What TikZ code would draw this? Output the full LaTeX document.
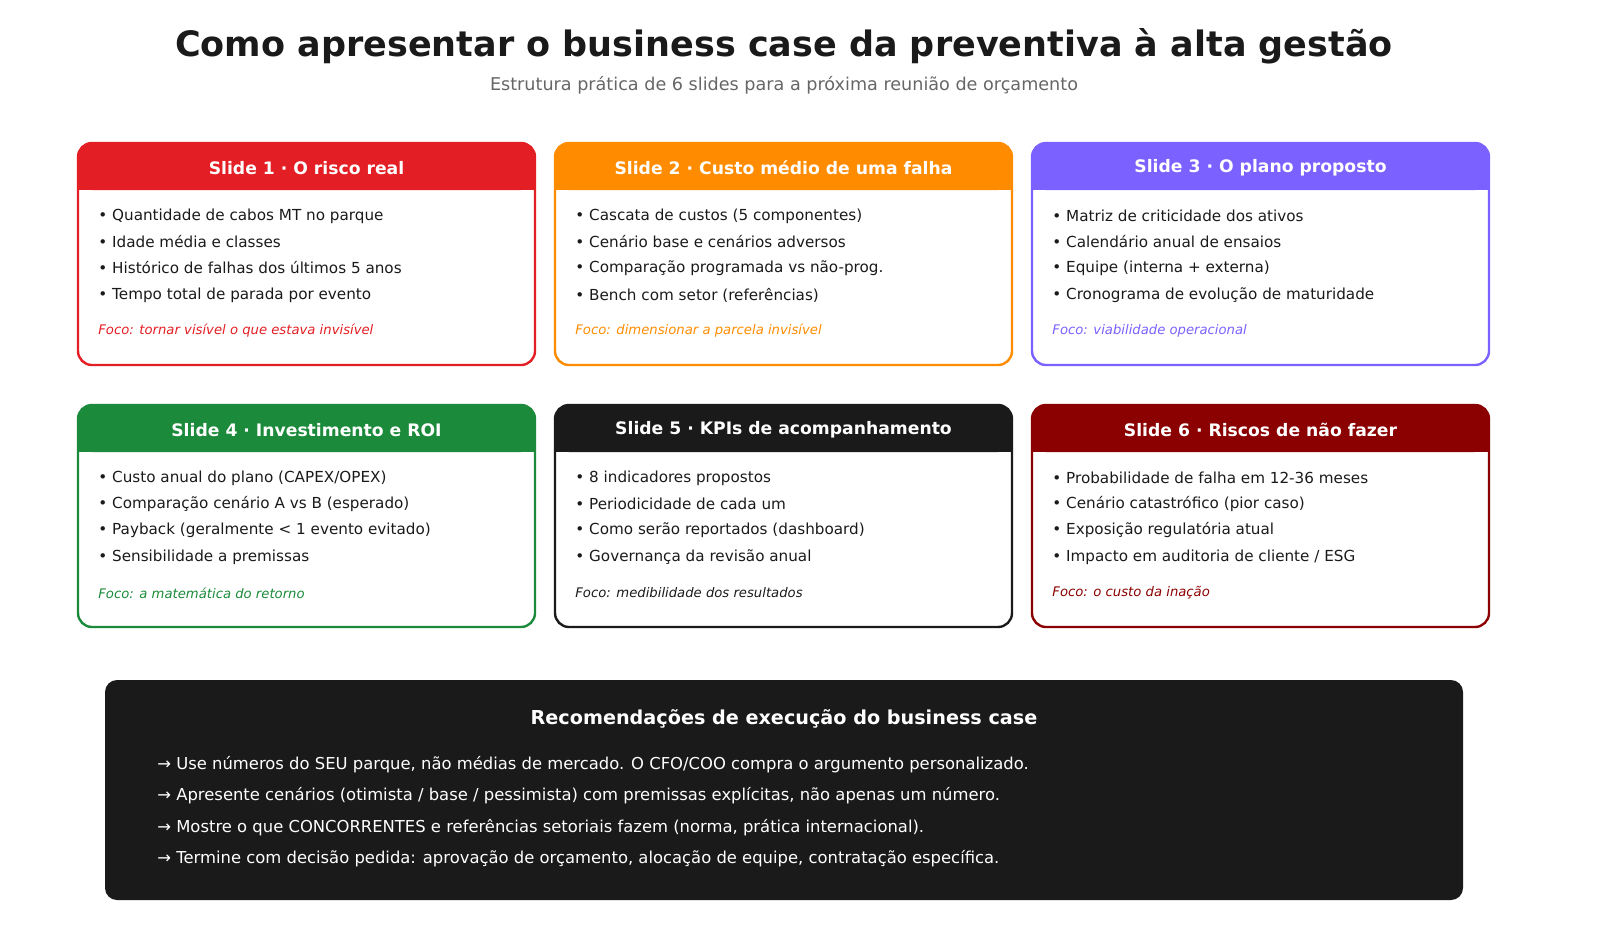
\documentclass[tikz,border=0pt]{standalone}
\usepackage{fontspec}
\setmainfont{DejaVu Sans}
\usepackage{tikz}
\usetikzlibrary{positioning}

\definecolor{cRed}{HTML}{E31E24}
\definecolor{cOrange}{HTML}{FF8C00}
\definecolor{cPurple}{HTML}{7B61FF}
\definecolor{cGreen}{HTML}{1B8A3A}
\definecolor{cBlack}{HTML}{1A1A1A}
\definecolor{cDark}{HTML}{8B0000}
\definecolor{cGray}{HTML}{666666}

% one card: name, left x, top y, colour, focus colour, title, four bullets, focus
\newcommand{\slidecard}[9]{%
  \fill[#4, rounded corners=7] (#2,#3) rectangle ++(457,47);
  \fill[#4] (#2,#3+20) rectangle ++(457,27);
  \node[cardbox, draw=#4] (#1) at (#2+228.5,#3+111) {};
  \node[cardhead] (#1-head) at (#2+228.5,#3+25) {#6};
  \node[bullet] (#1-a) at (#2+20,#3+73) {• #7};
  \node[bullet] (#1-b) at (#2+20,#3+99) {• #8};
  \node[bullet] (#1-c) at (#2+20,#3+125) {• #9};
  \slidecardrest{#1}{#2}{#3}{#5}}
\newcommand{\slidecardrest}[7]{%
  \node[bullet] (#1-d) at (#2+20,#3+152) {• #5};
  \node[focus, text=#4] (#1-focus) at (#2+20,#3+188) {#6};}

\begin{document}
\begin{tikzpicture}[x=0.5pt, y=-0.5pt,
    cardbox/.style={rounded corners=7, line width=1.2pt, minimum width=228.5pt,
                    minimum height=111pt, inner sep=0pt},
    cardhead/.style={text=white, font=\fontsize{8.6}{10}\selectfont\bfseries},
    bullet/.style={anchor=west, inner sep=0pt, text=cBlack,
                   font=\fontsize{7.6}{9}\selectfont},
    focus/.style={anchor=west, inner sep=0pt, font=\fontsize{6.6}{8}\selectfont\itshape},
    note/.style={anchor=west, inner sep=0pt, text=white, font=\fontsize{8.2}{10}\selectfont}]
 \useasboundingbox (0,0) rectangle (1600,933);

 \node (title) at (784,46) {\fontsize{17.5}{20}\selectfont\bfseries\color{cBlack}Como apresentar o business case da preventiva à alta gestão};
 \node[text=cGray, font=\fontsize{8.8}{10}\selectfont] (subtitle) at (784,85)
   {Estrutura prática de 6 slides para a próxima reunião de orçamento};

 \slidecard{s1}{78}{143}{cRed}{cRed}{Slide 1 · O risco real}{Quantidade de cabos MT no parque}{Idade média e classes}{Histórico de falhas dos últimos 5 anos}{Tempo total de parada por evento}{Foco: tornar visível o que estava invisível}{}
 \slidecard{s2}{555}{143}{cOrange}{cOrange}{Slide 2 · Custo médio de uma falha}{Cascata de custos (5 componentes)}{Cenário base e cenários adversos}{Comparação programada vs não-prog.}{Bench com setor (referências)}{Foco: dimensionar a parcela invisível}{}
 \slidecard{s3}{1032}{143}{cPurple}{cPurple}{Slide 3 · O plano proposto}{Matriz de criticidade dos ativos}{Calendário anual de ensaios}{Equipe (interna + externa)}{Cronograma de evolução de maturidade}{Foco: viabilidade operacional}{}
 \slidecard{s4}{78}{405}{cGreen}{cGreen}{Slide 4 · Investimento e ROI}{Custo anual do plano (CAPEX/OPEX)}{Comparação cenário A vs B (esperado)}{Payback (geralmente < 1 evento evitado)}{Sensibilidade a premissas}{Foco: a matemática do retorno}{}
 \slidecard{s5}{555}{405}{cBlack}{cBlack}{Slide 5 · KPIs de acompanhamento}{8 indicadores propostos}{Periodicidade de cada um}{Como serão reportados (dashboard)}{Governança da revisão anual}{Foco: medibilidade dos resultados}{}
 \slidecard{s6}{1032}{405}{cDark}{cDark}{Slide 6 · Riscos de não fazer}{Probabilidade de falha em 12-36 meses}{Cenário catastrófico (pior caso)}{Exposição regulatória atual}{Impacto em auditoria de cliente / ESG}{Foco: o custo da inação}{}

 % recommendations
 \node[fill=cBlack, rounded corners=6, minimum width=679pt, minimum height=110pt]
   (recs) at (784,790) {};
 \node[text=white, font=\fontsize{9.6}{11}\selectfont\bfseries] (recs-title) at (784,719)
   {Recomendações de execução do business case};
 \node[note] (r1) at (157,765) {→ Use números do SEU parque, não médias de mercado. O CFO/COO compra o argumento personalizado.};
 \node[note] (r2) at (157,796) {→ Apresente cenários (otimista / base / pessimista) com premissas explícitas, não apenas um número.};
 \node[note] (r3) at (157,828) {→ Mostre o que CONCORRENTES e referências setoriais fazem (norma, prática internacional).};
 \node[note] (r4) at (157,859) {→ Termine com decisão pedida: aprovação de orçamento, alocação de equipe, contratação específica.};
\end{tikzpicture}
\end{document}
